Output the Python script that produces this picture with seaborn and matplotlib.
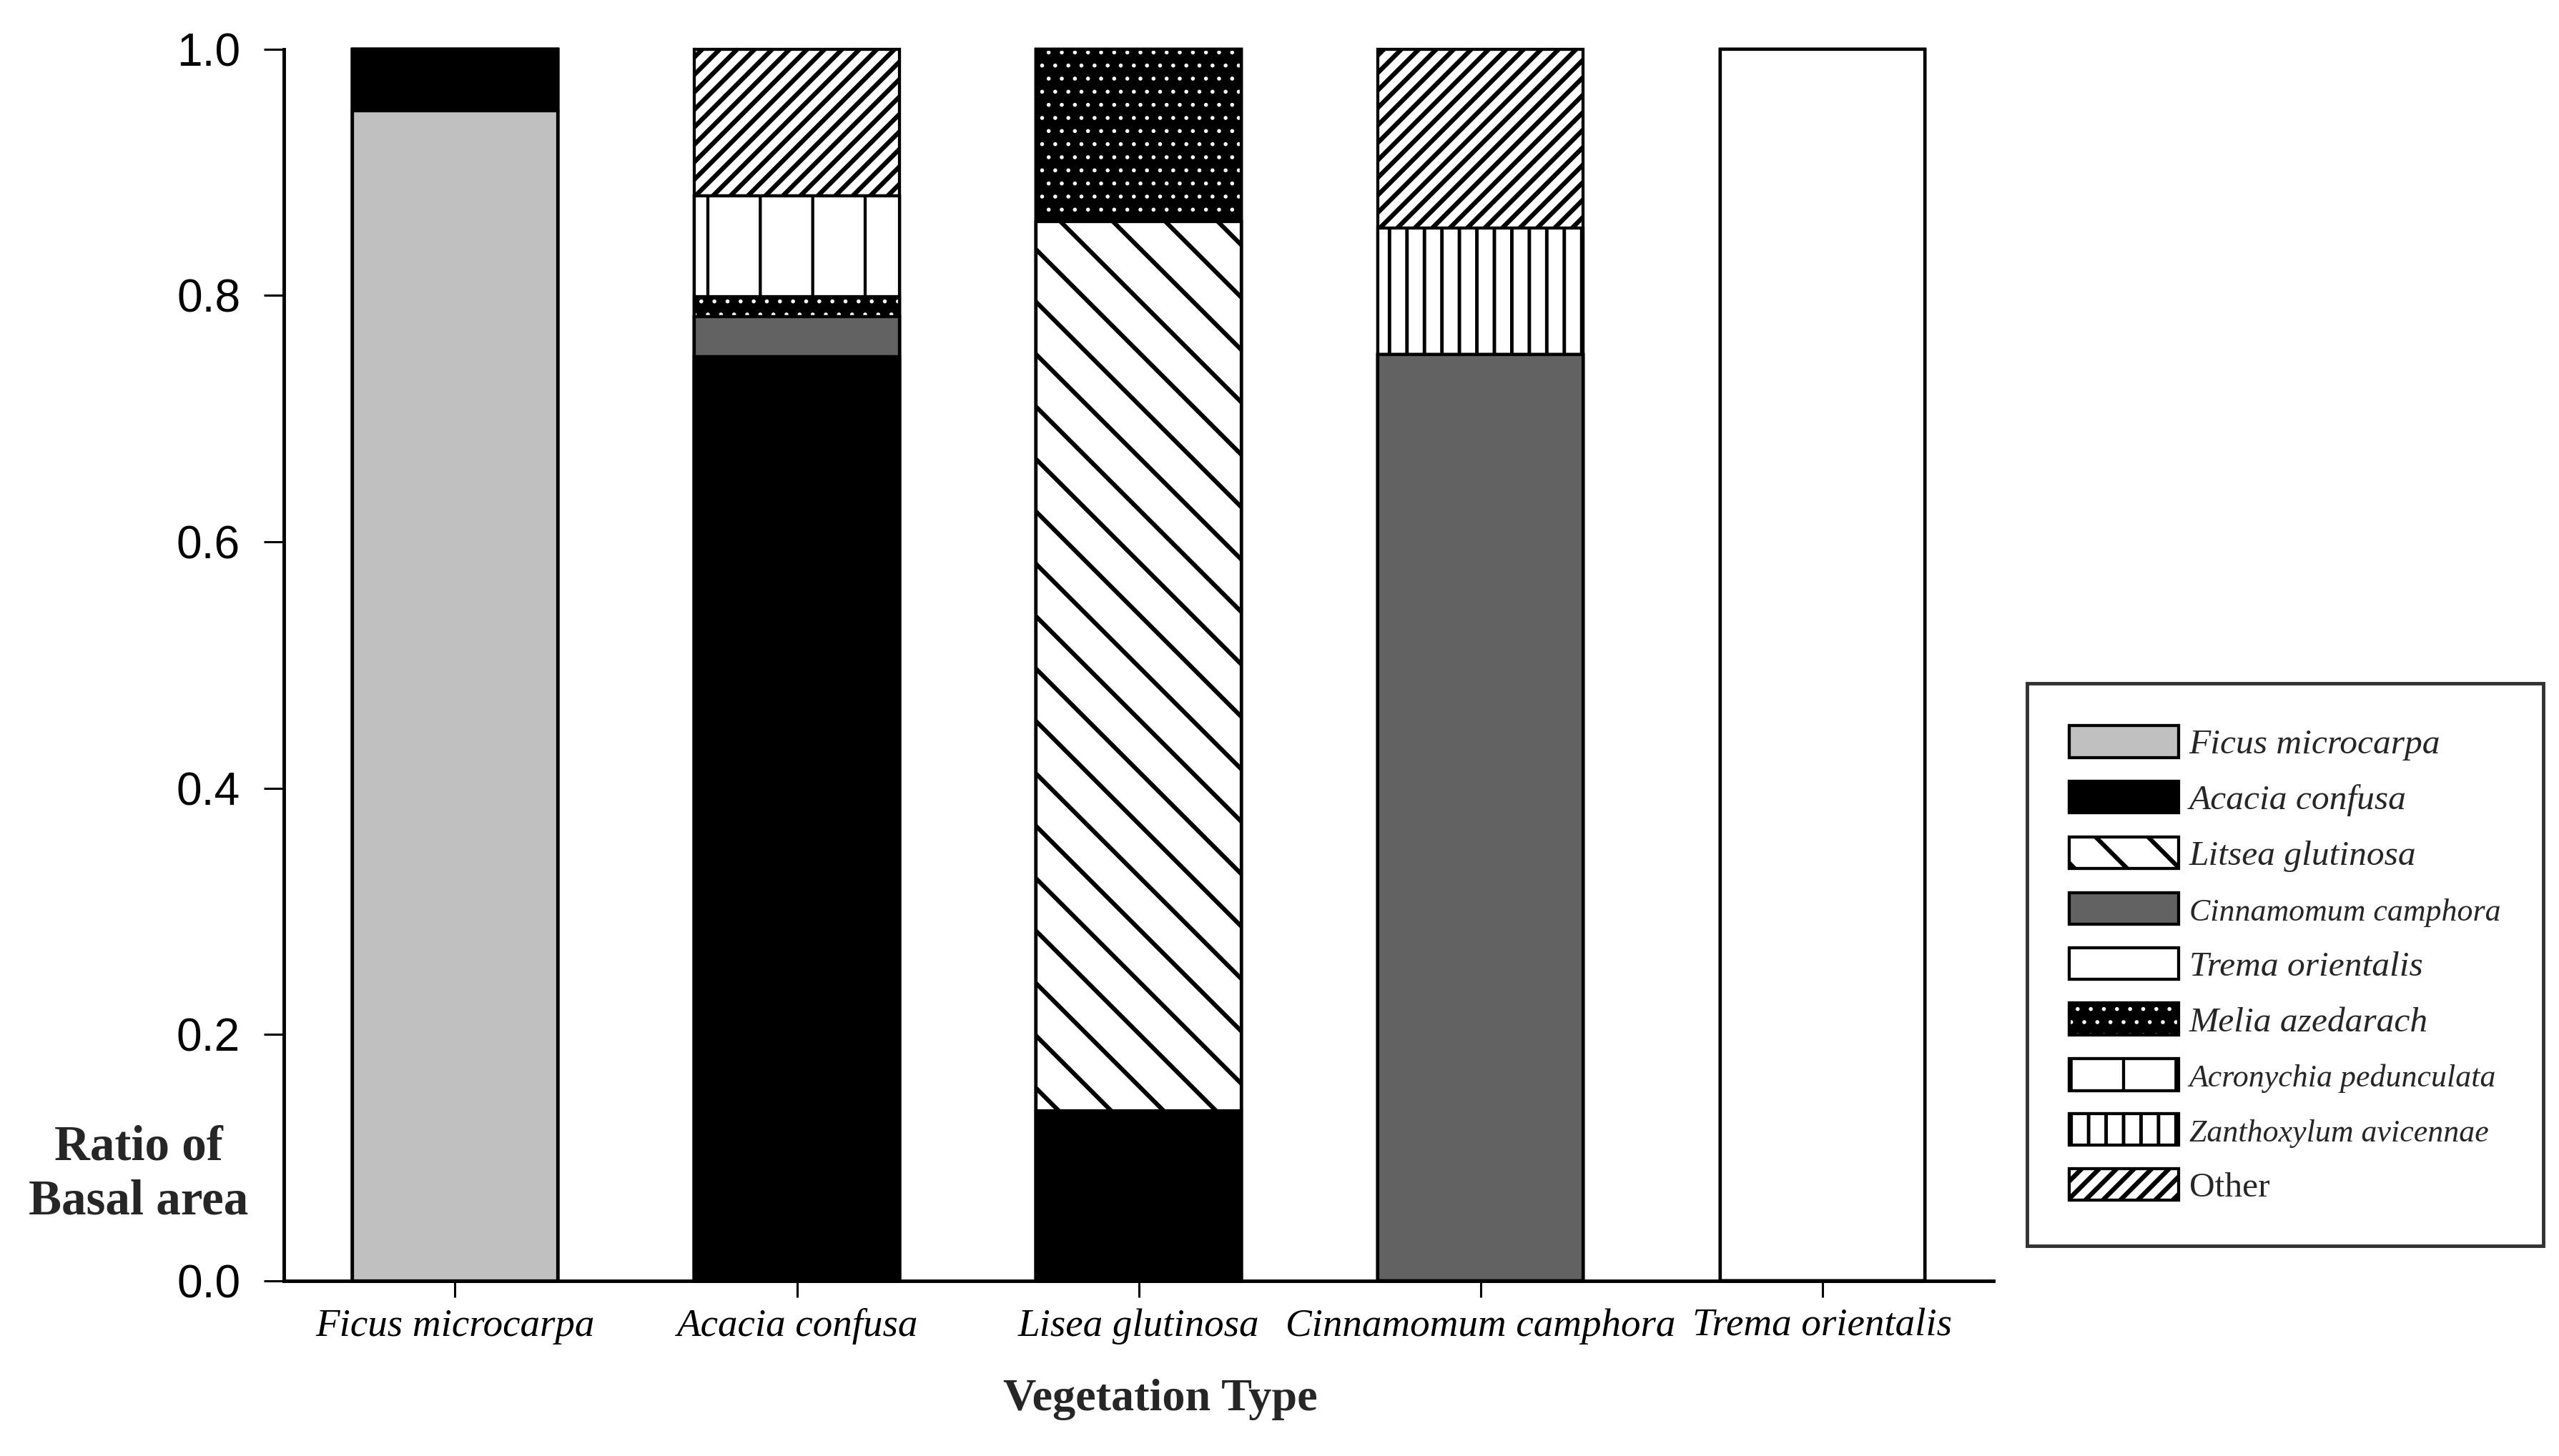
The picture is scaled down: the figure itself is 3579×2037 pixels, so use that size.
import numpy as np
import pandas as pd
import matplotlib
matplotlib.use("Agg")
import matplotlib.pyplot as plt
import matplotlib.patches as mpatches
import matplotlib.colors as mcolors
import seaborn as sns

# vegetation types (x categories)
sites = ["Ficus microcarpa", "Acacia confusa", "Lisea glutinosa",
         "Cinnamomum camphora", "Trema orientalis"]

# species in stacking / legend order
species = ["Ficus microcarpa", "Acacia confusa", "Litsea glutinosa",
           "Cinnamomum camphora", "Trema orientalis", "Melia azedarach",
           "Acronychia pedunculata", "Zanthoxylum avicennae", "Other"]

# ratio of basal area per vegetation type
ficus_microcarpa = [0.95, 0.0, 0.0, 0.0, 0.0]
acacia_confusa = [0.05, 0.75, 0.138, 0.0, 0.0]
litsea_glutinosa = [0.0, 0.0, 0.722, 0.0, 0.0]
cinnamomum_camphora = [0.0, 0.033, 0.0, 0.752, 0.0]
trema_orientalis = [0.0, 0.0, 0.0, 0.0, 1.0]
melia_azedarach = [0.0, 0.016, 0.14, 0.0, 0.0]
acronychia_pedunculata = [0.0, 0.082, 0.0, 0.0, 0.0]
zanthoxylum_avicennae = [0.0, 0.0, 0.0, 0.103, 0.0]
other = [0.0, 0.119, 0.0, 0.145, 0.0]

yticks = [0.0, 0.2, 0.4, 0.6, 0.8, 1.0]

values = np.array([ficus_microcarpa, acacia_confusa, litsea_glutinosa,
                   cinnamomum_camphora, trema_orientalis, melia_azedarach,
                   acronychia_pedunculata, zanthoxylum_avicennae, other])
cum = np.cumsum(values, axis=0)

faces = ["#c0c0c0", "black", "white", "#626262", "white", "black",
         "white", "white", "white"]
hatches = [None, None, "\\\\", None, None, "....", "|", "|||", "//////"]
hatch_cols = ["black"] * 9
hatch_cols[5] = "white"
hatch_lws = [None, None, 1.0, None, None, 0.3, 0.7, 0.8, 1.05]
MELIA = 5

sns.set_style("ticks")
plt.rcParams["font.family"] = ["Liberation Serif", "DejaVu Serif"]
plt.rcParams["hatch.linewidth"] = 0.8
plt.rcParams["axes.linewidth"] = 0.8


def set_hatch_col(p, col):
    if hasattr(p, "set_hatchcolor"):
        p.set_hatchcolor(col)
    else:
        p._hatch_color = mcolors.to_rgba(col)


def set_hatch_lw(p, lw):
    if hasattr(p, "set_hatch_linewidth"):
        p.set_hatch_linewidth(lw)
    orig = p.draw

    def draw(renderer):
        with plt.rc_context({"hatch.linewidth": lw}):
            orig(renderer)
    p.draw = draw


fig = plt.figure(figsize=(3579 / 440, 2037 / 440), dpi=440)
ax = fig.add_axes([0.111, 0.1203, 0.668, 0.846])

# draw cumulative bars from top layer down so lower layers cover them
for i in reversed(range(len(species))):
    layer = pd.DataFrame({"site": sites, "top": cum[i]})
    n0 = len(ax.patches)
    sns.barplot(data=layer, x="site", y="top", order=sites, color=faces[i],
                saturation=1, edgecolor="black", linewidth=0.7,
                hatch=hatches[i], width=0.6, errorbar=None, ax=ax)
    for p in ax.patches[n0:]:
        p.set_clip_on(False)
        if hatches[i] is not None:
            set_hatch_col(p, hatch_cols[i])
            set_hatch_lw(p, hatch_lws[i])

ax.set_ylim(0, 1.0)
ax.set_xlim(-0.5, 4.5)
ax.set_yticks(yticks)
ax.set_yticklabels([f"{t:.1f}" for t in yticks], fontfamily="Liberation Sans",
                   fontsize=10.5)
ax.set_xticks(range(len(sites)))
ax.set_xticklabels(sites, fontstyle="italic", fontsize=9)
ax.set_xlabel("")
ax.set_ylabel("")
ax.tick_params(axis="y", length=4.6, width=0.5, pad=5.4, colors="black")
ax.tick_params(axis="x", length=3.8, width=0.5, pad=2.5, colors="black")
sns.despine(ax=ax)
for s in ["left", "bottom"]:
    ax.spines[s].set_color("black")
    ax.spines[s].set_linewidth(0.8)

fig.text(0.0542, 0.193, "Ratio of\nBasal area", ha="center", va="center",
         fontsize=11.3, fontweight="bold", linespacing=1.25)
fig.text(0.4535, 0.0386, "Vegetation Type", ha="center", va="center",
         fontsize=10.5, fontweight="bold")

handles = []
for i, name in enumerate(species):
    h = mpatches.Patch(facecolor=faces[i], edgecolor="black", linewidth=0.7,
                       hatch=hatches[i], label=name)
    if hatches[i] is not None:
        set_hatch_col(h, hatch_cols[i])
    handles.append(h)

leg = fig.legend(handles=handles, loc="upper left",
                 bbox_to_anchor=(0.7921, 0.5307), borderaxespad=0,
                 fontsize=8.1, handlelength=3.08, handleheight=1.0,
                 handletextpad=0.3, labelspacing=0.58, borderpad=1.2,
                 fancybox=False, frameon=True, edgecolor="black")
leg.get_frame().set_linewidth(0.8)
small = ["Cinnamomum camphora", "Acronychia pedunculata", "Zanthoxylum avicennae"]
for t in leg.get_texts():
    if t.get_text() != "Other":
        t.set_fontstyle("italic")
    if t.get_text() in small:
        t.set_fontsize(7.2)
leg_handles = getattr(leg, "legend_handles", None) or leg.legendHandles
for i, h in enumerate(leg_handles):
    if hatches[i] is not None:
        set_hatch_col(h, hatch_cols[i])
        set_hatch_lw(h, hatch_lws[i])

fig.savefig("out.png", dpi=440, facecolor="white")
